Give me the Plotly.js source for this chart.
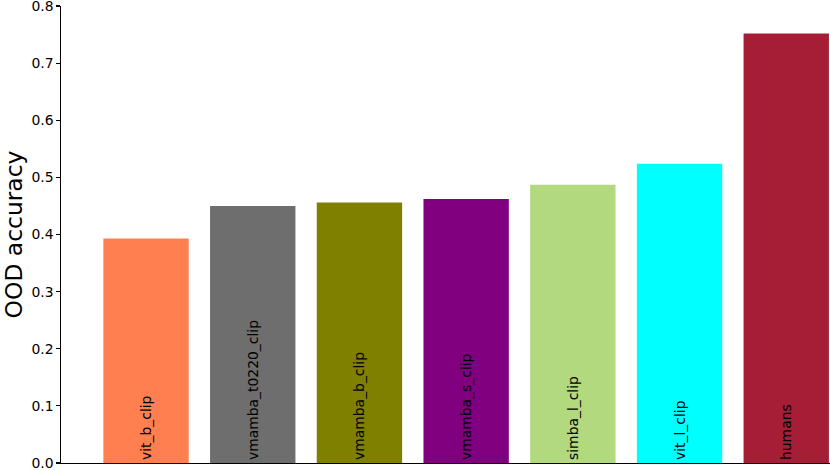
<!DOCTYPE html>
<html>
<head>
<meta charset="utf-8">
<script src="https://cdn.plot.ly/plotly-3.0.1.min.js"></script>
<style>html,body{margin:0;padding:0;background:#fff}#chart{width:830px;height:470px}</style>
</head>
<body>
<div id="chart"></div>
<script>
const models = ["vit_b_clip","vmamba_t0220_clip","vmamba_b_clip","vmamba_s_clip","simba_l_clip","vit_l_clip","humans"];
const oodAccuracy = [0.393, 0.450, 0.456, 0.462, 0.487, 0.524, 0.752];
const barColors = ["#ff7f50","#6e6e6e","#808000","#800080","#b2d97e","#00ffff","#a51e36"];
const yTicks = [0.0,0.1,0.2,0.3,0.4,0.5,0.6,0.7,0.8];
const yTickLabels = ["0.0","0.1","0.2","0.3","0.4","0.5","0.6","0.7","0.8"];

const xIdx = models.map((m,i)=>i);
const trace = {
  type: "bar",
  x: xIdx,
  y: oodAccuracy,
  width: 0.8,
  marker: {color: barColors, line: {width: 0}},
  text: models,
  textposition: "inside",
  insidetextanchor: "start",
  textangle: -90,
  constraintext: "none",
  textfont: {family: "DejaVu Sans", size: 13.9, color: "#000"},
  hoverinfo: "none"
};
const layout = {
  width: 830, height: 470,
  margin: {l: 61, r: 0, t: 6, b: 6.5, pad: 0},
  paper_bgcolor: "#fff", plot_bgcolor: "#fff",
  showlegend: false,
  font: {family: "DejaVu Sans", color: "#000"},
  xaxis: {
    range: [-0.797, 6.41],
    showticklabels: false, ticks: "", showgrid: false, zeroline: false,
    showline: true, linecolor: "#000", linewidth: 1.1
  },
  yaxis: {
    range: [0, 0.8],
    tickvals: yTicks, ticktext: yTickLabels,
    ticks: "outside", ticklen: 3.5, tickwidth: 1.1, tickcolor: "#000",
    ticklabeloverflow: "allow",
    tickfont: {family: "DejaVu Sans", size: 13.9, color: "#000"},
    showgrid: false, zeroline: false,
    showline: true, linecolor: "#000", linewidth: 1.1,
    title: {text: "OOD accuracy", font: {family: "DejaVu Sans", size: 23.4, color: "#000"}, standoff: 12},
    automargin: false
  }
};
Plotly.newPlot("chart", [trace], layout, {staticPlot: true, displayModeBar: false});
</script>
</body>
</html>
